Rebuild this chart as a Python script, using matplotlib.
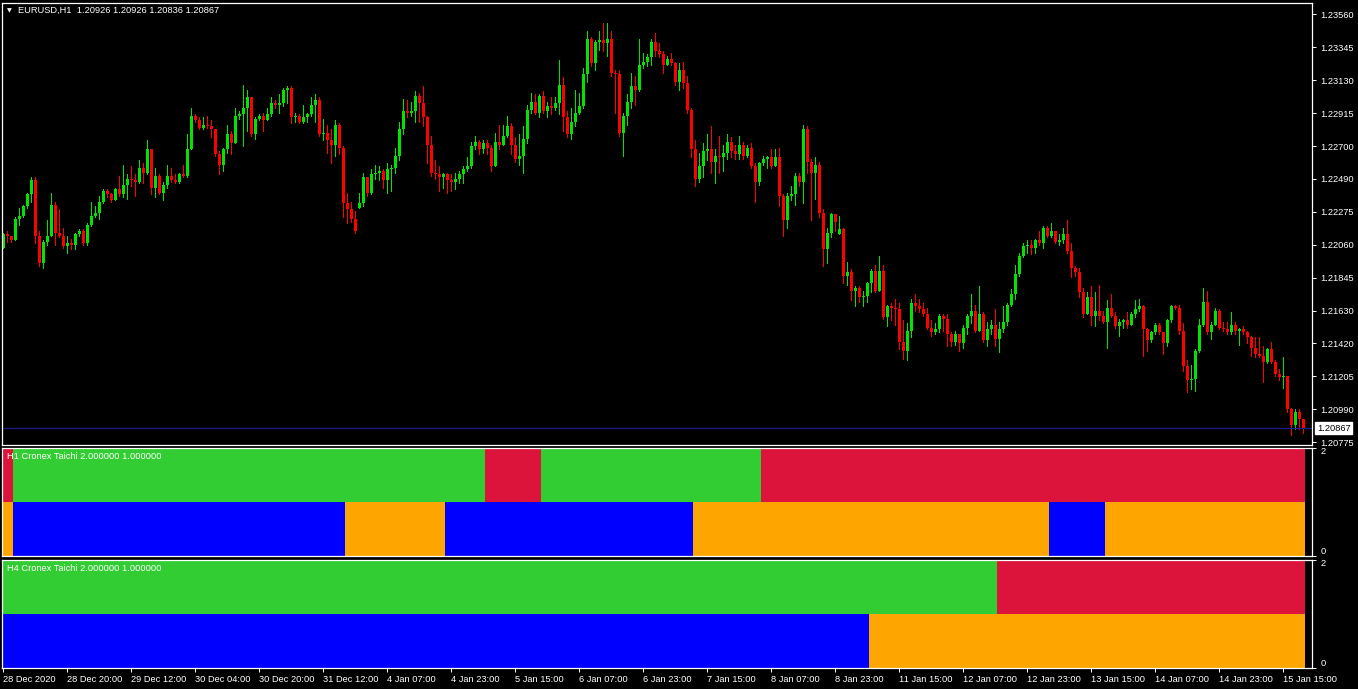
import numpy as np
import matplotlib.pyplot as plt
import matplotlib.transforms as mtrans

# EURUSD H1 candles, 28 Dec 2020 04:00 .. 15 Jan 2021 20:00
close = [
    1.2213, 1.2212, 1.2209, 1.2223, 1.2225, 1.2231, 1.2239, 1.2248, 1.2212, 1.2194,
    1.2208, 1.2212, 1.2232, 1.2214, 1.2212, 1.2205, 1.2207, 1.2206, 1.2213, 1.2215,
    1.2207, 1.2219, 1.2225, 1.2227, 1.2234, 1.2241, 1.2239, 1.2235, 1.2242, 1.2239,
    1.2245, 1.2249, 1.2248, 1.2247, 1.2256, 1.2253, 1.2268, 1.2243, 1.2251, 1.2240,
    1.2245, 1.2251, 1.2248, 1.2247, 1.2252, 1.2251, 1.2268, 1.2290, 1.2287, 1.2282,
    1.2284, 1.2283, 1.2281, 1.2265, 1.2258, 1.2268, 1.2278, 1.2272, 1.2290, 1.2291,
    1.2295, 1.2302, 1.2278, 1.2288, 1.2290, 1.2287, 1.2291, 1.2298, 1.2297, 1.2298,
    1.2307, 1.2308, 1.2289, 1.2290, 1.2286, 1.2289, 1.2291, 1.2297, 1.2300, 1.2278,
    1.2279, 1.2274, 1.2271, 1.2284, 1.2269, 1.2233, 1.2229, 1.2223, 1.2215, 1.2233,
    1.2250, 1.2240, 1.2252, 1.2253, 1.2254, 1.2248, 1.2255, 1.2256, 1.2264, 1.2281,
    1.2293, 1.2292, 1.2293, 1.2303, 1.2298, 1.2289, 1.2271, 1.2253, 1.2252, 1.2250,
    1.2252, 1.2248, 1.2247, 1.2249, 1.2252, 1.2255, 1.2257, 1.2270, 1.2273, 1.2268,
    1.2272, 1.2269, 1.2257, 1.2273, 1.2271, 1.2277, 1.2283, 1.2271, 1.2262, 1.2264,
    1.2275, 1.2294, 1.2299, 1.2292, 1.2303, 1.2293, 1.2296, 1.2295, 1.2298, 1.2310,
    1.2289, 1.2278, 1.2286, 1.2292, 1.2296, 1.2317, 1.2340, 1.2324, 1.2338, 1.2339,
    1.2337, 1.2340, 1.2318, 1.2317, 1.2279, 1.2290, 1.2299, 1.2309, 1.2307, 1.2323,
    1.2325, 1.2328, 1.2338, 1.2332, 1.2330, 1.2323, 1.2327, 1.2324, 1.2312, 1.2320,
    1.2311, 1.2294, 1.2268, 1.2249, 1.2257, 1.2267, 1.2268, 1.2260, 1.2264, 1.2263,
    1.2266, 1.2273, 1.2267, 1.2265, 1.2271, 1.2264, 1.2269, 1.2257, 1.2247, 1.2259,
    1.2262, 1.2263, 1.2257, 1.2263, 1.2238, 1.2222, 1.2238, 1.2239, 1.2251, 1.2247,
    1.2281, 1.2260, 1.2253, 1.2258, 1.2227, 1.2203, 1.2214, 1.2226, 1.2221, 1.2216,
    1.2186, 1.2188, 1.2176, 1.2178, 1.2172, 1.2173, 1.2181, 1.2189, 1.2176, 1.2189,
    1.2159, 1.2166, 1.2165, 1.2164, 1.2143, 1.2137, 1.2150, 1.2168, 1.2166, 1.2164,
    1.2161, 1.2152, 1.2149, 1.2151, 1.2160, 1.2158, 1.2148, 1.2143, 1.2148, 1.2142,
    1.2152, 1.2160, 1.2163, 1.2150, 1.2161, 1.2144, 1.2151, 1.2154, 1.2145, 1.2151,
    1.2156, 1.2167, 1.2174, 1.2187, 1.2199, 1.2205, 1.2206, 1.2204, 1.2209, 1.2207,
    1.2217, 1.2212, 1.2215, 1.2208, 1.2209, 1.2213, 1.2202, 1.2191, 1.2188, 1.2175,
    1.2161, 1.2172, 1.2160, 1.2163, 1.2160, 1.2156, 1.2165, 1.2160, 1.2153, 1.2156,
    1.2157, 1.2154, 1.2161, 1.2164, 1.2166, 1.2151, 1.2144, 1.2149, 1.2154, 1.2149,
    1.2142, 1.2157, 1.2166, 1.2165, 1.2150, 1.2127, 1.2118, 1.2119, 1.2137, 1.2154,
    1.2169, 1.2149, 1.2154, 1.2163, 1.2152, 1.2151, 1.2149, 1.2154, 1.2150, 1.2151,
    1.2149, 1.2146, 1.2139, 1.2135, 1.2134, 1.2130, 1.2138, 1.2130, 1.2122, 1.2120,
    1.2121, 1.2099, 1.2089, 1.2097, 1.20926, 1.20867,
]
high = [
    1.2214, 1.2215, 1.2212, 1.2224, 1.2230, 1.2232, 1.2240, 1.2250, 1.2250, 1.2215,
    1.2209, 1.2222, 1.2240, 1.2234, 1.2229, 1.2217, 1.2212, 1.2210, 1.2214, 1.2216,
    1.2216, 1.2220, 1.2234, 1.2231, 1.2238, 1.2242, 1.2242, 1.2240, 1.2243, 1.2251,
    1.2258, 1.2252, 1.2257, 1.2252, 1.2261, 1.2259, 1.2274, 1.2268, 1.2256, 1.2252,
    1.2247, 1.2258, 1.2256, 1.2252, 1.2253, 1.2258, 1.2278, 1.2295, 1.2291, 1.2289,
    1.2289, 1.2290, 1.2287, 1.2281, 1.2267, 1.2269, 1.2284, 1.2280, 1.2295, 1.2293,
    1.2310, 1.2307, 1.2302, 1.2289, 1.2291, 1.2292, 1.2295, 1.2302, 1.2300, 1.2304,
    1.2308, 1.2309, 1.2309, 1.2292, 1.2291, 1.2297, 1.2292, 1.2302, 1.2304, 1.2302,
    1.2288, 1.2284, 1.2281, 1.2287, 1.2285, 1.2270, 1.2240, 1.2234, 1.2228, 1.2240,
    1.2253, 1.2249, 1.2255, 1.2258, 1.2257, 1.2255, 1.2259, 1.2258, 1.2269, 1.2286,
    1.2301, 1.2300, 1.2299, 1.2306, 1.2305, 1.2309, 1.2290, 1.2277, 1.2261, 1.2257,
    1.2253, 1.2253, 1.2252, 1.2253, 1.2254, 1.2257, 1.2263, 1.2273, 1.2277, 1.2274,
    1.2274, 1.2274, 1.2271, 1.2279, 1.2284, 1.2284, 1.2290, 1.2285, 1.2276, 1.2278,
    1.2283, 1.2297, 1.2305, 1.2304, 1.2304, 1.2306, 1.2299, 1.2302, 1.2302, 1.2326,
    1.2315, 1.2293, 1.2295, 1.2307, 1.2305, 1.2321, 1.2345, 1.2341, 1.2339, 1.2345,
    1.2350, 1.2350, 1.2345, 1.2320, 1.2320, 1.2292, 1.2304, 1.2318, 1.2316, 1.2340,
    1.2331, 1.2330, 1.2340, 1.2344, 1.2337, 1.2332, 1.2329, 1.2331, 1.2325, 1.2324,
    1.2325, 1.2316, 1.2295, 1.2274, 1.2266, 1.2272, 1.2278, 1.2283, 1.2268, 1.2277,
    1.2271, 1.2278, 1.2276, 1.2271, 1.2277, 1.2273, 1.2271, 1.2272, 1.2259, 1.2260,
    1.2264, 1.2264, 1.2268, 1.2268, 1.2269, 1.2239, 1.2240, 1.2244, 1.2253, 1.2253,
    1.2284, 1.2283, 1.2262, 1.2263, 1.2260, 1.2229, 1.2217, 1.2227, 1.2226, 1.2225,
    1.2217, 1.2195, 1.2190, 1.2179, 1.2179, 1.2176, 1.2182, 1.2190, 1.2193, 1.2199,
    1.2193, 1.2167, 1.2168, 1.2171, 1.2168, 1.2157, 1.2155, 1.2171, 1.2174, 1.2171,
    1.2168, 1.2165, 1.2157, 1.2155, 1.2161, 1.2161, 1.2161, 1.2149, 1.2150, 1.2148,
    1.2154, 1.2161, 1.2174, 1.2167, 1.2179, 1.2162, 1.2156, 1.2157, 1.2164, 1.2156,
    1.2166, 1.2168, 1.2177, 1.2193, 1.2201, 1.2207, 1.2209, 1.2209, 1.2210, 1.2215,
    1.2218, 1.2218, 1.2220, 1.2215, 1.2213, 1.2217, 1.2222, 1.2207, 1.2192, 1.2191,
    1.2178, 1.2175, 1.2179, 1.2175, 1.2180, 1.2163, 1.2170, 1.2174, 1.2162, 1.2158,
    1.2158, 1.2162, 1.2162, 1.2170, 1.2171, 1.2167, 1.2152, 1.2150, 1.2155, 1.2155,
    1.2149, 1.2158, 1.2167, 1.2167, 1.2167, 1.2155, 1.2131, 1.2128, 1.2138, 1.2158,
    1.2178, 1.2176, 1.2156, 1.2165, 1.2164, 1.2156, 1.2156, 1.2162, 1.2156, 1.2152,
    1.2153, 1.2150, 1.2147, 1.2146, 1.2146, 1.2140, 1.2139, 1.2143, 1.2131, 1.2125,
    1.2133, 1.2121, 1.2100, 1.2099, 1.2099, 1.20926,
]
low = [
    1.2204, 1.2208, 1.2208, 1.2209, 1.2219, 1.2224, 1.2230, 1.2234, 1.2207, 1.2192,
    1.2191, 1.2206, 1.2212, 1.2206, 1.2211, 1.2204, 1.2201, 1.2203, 1.2203, 1.2212,
    1.2206, 1.2206, 1.2218, 1.2224, 1.2223, 1.2233, 1.2237, 1.2234, 1.2235, 1.2238,
    1.2237, 1.2236, 1.2244, 1.2238, 1.2246, 1.2246, 1.2252, 1.2239, 1.2237, 1.2239,
    1.2235, 1.2243, 1.2247, 1.2246, 1.2246, 1.2250, 1.2250, 1.2268, 1.2286, 1.2281,
    1.2281, 1.2282, 1.2276, 1.2264, 1.2252, 1.2254, 1.2266, 1.2265, 1.2272, 1.2288,
    1.2270, 1.2280, 1.2277, 1.2275, 1.2287, 1.2280, 1.2287, 1.2290, 1.2295, 1.2292,
    1.2296, 1.2298, 1.2285, 1.2286, 1.2285, 1.2285, 1.2286, 1.2290, 1.2286, 1.2277,
    1.2274, 1.2266, 1.2259, 1.2264, 1.2265, 1.2224, 1.2220, 1.2221, 1.2214, 1.2230,
    1.2231, 1.2238, 1.2239, 1.2249, 1.2248, 1.2243, 1.2240, 1.2241, 1.2253, 1.2261,
    1.2278, 1.2289, 1.2290, 1.2286, 1.2286, 1.2283, 1.2259, 1.2251, 1.2249, 1.2241,
    1.2243, 1.2240, 1.2241, 1.2242, 1.2246, 1.2246, 1.2254, 1.2256, 1.2268, 1.2265,
    1.2266, 1.2265, 1.2254, 1.2257, 1.2268, 1.2271, 1.2276, 1.2265, 1.2260, 1.2258,
    1.2253, 1.2272, 1.2292, 1.2291, 1.2289, 1.2292, 1.2289, 1.2291, 1.2294, 1.2291,
    1.2280, 1.2276, 1.2275, 1.2283, 1.2291, 1.2295, 1.2312, 1.2322, 1.2320, 1.2333,
    1.2332, 1.2329, 1.2316, 1.2292, 1.2277, 1.2264, 1.2284, 1.2295, 1.2297, 1.2306,
    1.2321, 1.2322, 1.2323, 1.2329, 1.2328, 1.2318, 1.2323, 1.2323, 1.2310, 1.2307,
    1.2308, 1.2292, 1.2263, 1.2244, 1.2247, 1.2250, 1.2261, 1.2253, 1.2246, 1.2253,
    1.2254, 1.2262, 1.2263, 1.2262, 1.2262, 1.2262, 1.2263, 1.2256, 1.2234, 1.2245,
    1.2258, 1.2256, 1.2256, 1.2257, 1.2231, 1.2212, 1.2217, 1.2235, 1.2232, 1.2244,
    1.2233, 1.2253, 1.2222, 1.2236, 1.2224, 1.2192, 1.2194, 1.2211, 1.2215, 1.2213,
    1.2181, 1.2180, 1.2170, 1.2166, 1.2169, 1.2166, 1.2169, 1.2175, 1.2175, 1.2176,
    1.2158, 1.2153, 1.2157, 1.2154, 1.2138, 1.2132, 1.2131, 1.2146, 1.2163, 1.2162,
    1.2160, 1.2151, 1.2147, 1.2148, 1.2149, 1.2150, 1.2140, 1.2140, 1.2141, 1.2137,
    1.2139, 1.2148, 1.2155, 1.2149, 1.2150, 1.2143, 1.2140, 1.2148, 1.2140, 1.2136,
    1.2149, 1.2154, 1.2166, 1.2171, 1.2186, 1.2198, 1.2201, 1.2200, 1.2201, 1.2206,
    1.2204, 1.2211, 1.2211, 1.2207, 1.2206, 1.2207, 1.2201, 1.2185, 1.2186, 1.2172,
    1.2159, 1.2161, 1.2154, 1.2153, 1.2157, 1.2155, 1.2139, 1.2159, 1.2152, 1.2147,
    1.2152, 1.2152, 1.2154, 1.2159, 1.2163, 1.2134, 1.2137, 1.2143, 1.2148, 1.2148,
    1.2135, 1.2140, 1.2156, 1.2164, 1.2148, 1.2124, 1.2110, 1.2112, 1.2111, 1.2136,
    1.2153, 1.2148, 1.2145, 1.2154, 1.2151, 1.2150, 1.2148, 1.2148, 1.2148, 1.2141,
    1.2148, 1.2142, 1.2134, 1.2133, 1.2133, 1.2117, 1.2129, 1.2129, 1.2121, 1.2118,
    1.2113, 1.2097, 1.2082, 1.2086, 1.2086, 1.20836,
]
first_open = 1.2204
gap_open = {89: 1.2230, 209: 1.2213}   # weekend opens
last_price = 1.20867

price_ticks = [1.23560, 1.23345, 1.23130, 1.22915, 1.22700, 1.22490, 1.22275,
               1.22060, 1.21845, 1.21630, 1.21420, 1.21205, 1.20990, 1.20775]
time_labels = ["28 Dec 2020", "28 Dec 20:00", "29 Dec 12:00", "30 Dec 04:00",
               "30 Dec 20:00", "31 Dec 12:00", "4 Jan 07:00", "4 Jan 23:00",
               "5 Jan 15:00", "6 Jan 07:00", "6 Jan 23:00", "7 Jan 15:00",
               "8 Jan 07:00", "8 Jan 23:00", "11 Jan 15:00", "12 Jan 07:00",
               "12 Jan 23:00", "13 Jan 15:00", "14 Jan 07:00", "14 Jan 23:00",
               "15 Jan 15:00"]

# Cronex Taichi state changes: bar index where a run starts, and its state
h1_trend_start = [0, 3, 121, 135, 190]
h1_trend_state = [0, 1, 0, 1, 0]
h1_signal_start = [0, 3, 86, 111, 173, 262, 276]
h1_signal_state = [0, 1, 0, 1, 0, 1, 0]
h4_trend_start = [0, 249]
h4_trend_state = [1, 0]
h4_signal_start = [0, 217]
h4_signal_state = [1, 0]

BULL, BEAR = "#00E400", "#FF0000"
UP, DN = "#32CD32", "#DC143C"
BLUE, ORANGE = "#0000FF", "#FFA500"
FONT = "Liberation Sans"
FS = 6.7

W, H = 1358, 689
fig = plt.figure(figsize=(W / 100, H / 100), dpi=100, facecolor="black")


def px_box(x0, y0, x1, y1):
    return [x0 / W, 1 - y1 / H, (x1 - x0) / W, (y1 - y0) / H]


ax = fig.add_axes(px_box(2, 2.5, 1312, 445))
a1 = fig.add_axes(px_box(2, 447.5, 1312, 556))
a2 = fig.add_axes(px_box(2, 559.5, 1312, 668))

close = np.array(close)
high = np.array(high)
low = np.array(low)
n = len(close)
x = np.arange(n)
opn = np.r_[first_open, close[:-1]]
for k, v in gap_open.items():
    opn[k] = v
col = np.where(close >= opn, BULL, BEAR)

ax.vlines(x, low, high, colors=col, linewidth=0.72, antialiased=False)
body_lo = np.minimum(opn, close)
body_h = np.maximum(np.abs(close - opn), 0.00007)
ax.bar(x, body_h, bottom=body_lo, width=0.75, color=col, linewidth=0,
       antialiased=False)
ax.axhline(last_price, color="#1C1C8C", linewidth=0.9)

xlim = (-0.35, 327.15)
for a in (ax, a1, a2):
    a.set_facecolor("black")
    a.set_xlim(*xlim)
    for s in a.spines.values():
        s.set_color("white")
        s.set_linewidth(0.9)
    a.yaxis.tick_right()
    a.tick_params(axis="y", colors="white", length=3, width=0.7, pad=3,
                  labelsize=FS)

ax.set_ylim(1.20758, 1.23636)
ax.set_yticks(price_ticks)
ax.set_yticklabels([f"{p:.5f}" for p in price_ticks], family=FONT, fontsize=FS)
ax.set_xticks([])
a1.set_xticks([])

# current price box
ax.annotate(f"{last_price:.5f}", xy=(1, last_price),
            xycoords=mtrans.blended_transform_factory(ax.transAxes, ax.transData),
            xytext=(5, 0), textcoords="offset pixels", ha="left", va="center",
            fontsize=FS, family=FONT, color="black", annotation_clip=False,
            bbox=dict(boxstyle="square,pad=0.18", fc="white", ec="white"))


def colours(starts, states, on, off):
    out = []
    for j, s in enumerate(starts):
        end = starts[j + 1] if j + 1 < len(starts) else n
        out += [on if states[j] else off] * (end - s)
    return out


panels = [
    (a1, h1_trend_start, h1_trend_state, h1_signal_start, h1_signal_state),
    (a2, h4_trend_start, h4_trend_state, h4_signal_start, h4_signal_state),
]
for a, ts, tv, ss, sv in panels:
    a.bar(x, 1, bottom=1, width=1.0, color=colours(ts, tv, UP, DN),
          linewidth=0, antialiased=False)
    a.bar(x, 1, bottom=0, width=1.0, color=colours(ss, sv, BLUE, ORANGE),
          linewidth=0, antialiased=False)
    a.set_ylim(0, 2)
    a.set_yticks([0, 2])
    a.set_yticklabels(["0", "2"], family=FONT, fontsize=FS)
    labs = a.get_yticklabels()
    labs[0].set_va("bottom")
    labs[1].set_va("top")

a2.set_xticks(x[::16][:len(time_labels)])
a2.set_xticklabels(time_labels, family=FONT, fontsize=FS, ha="left")
a2.tick_params(axis="x", colors="white", length=3, width=0.7, pad=2)

fig.text(7 / W, 1 - 10.5 / H, "\u25BC", color="white", fontsize=4.5,
         family="DejaVu Sans", va="center")
fig.text(18 / W, 1 - 10.5 / H, "EURUSD,H1  1.20926 1.20926 1.20836 1.20867",
         color="white", fontsize=FS, family=FONT, va="center")
fig.text(7 / W, 1 - 456.5 / H, "H1 Cronex Taichi 2.000000 1.000000",
         color="white", fontsize=FS, family=FONT, va="center")
fig.text(7 / W, 1 - 568.5 / H, "H4 Cronex Taichi 2.000000 1.000000",
         color="white", fontsize=FS, family=FONT, va="center")

fig.savefig("out.png", dpi=100, facecolor="black")
